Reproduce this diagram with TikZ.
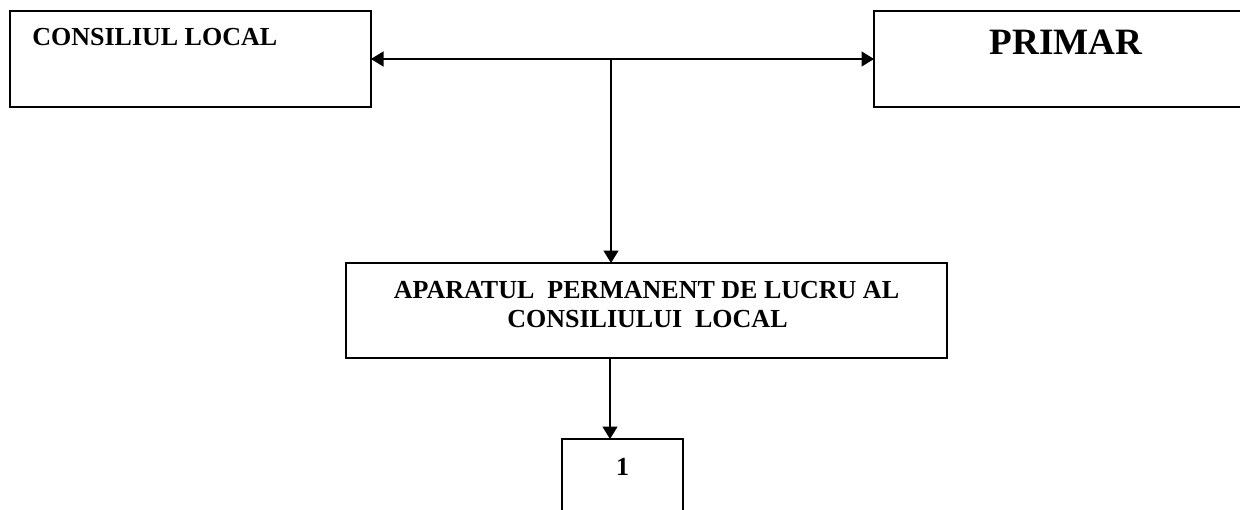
\documentclass[tikz,border=0pt]{standalone}
\usepackage{fontspec}
\setmainfont{Liberation Serif}
\usetikzlibrary{arrows.meta}
\begin{document}
\begin{tikzpicture}[x=0.6pt,y=-0.6pt,
  box/.style={draw, line width=0.9pt, inner sep=0pt, outer sep=0pt},
  lbl/.style={font=\fontsize{15.6}{17.4}\selectfont\bfseries, inner sep=0pt, anchor=base},
  big/.style={font=\fontsize{22.3}{26}\selectfont\bfseries, inner sep=0pt, anchor=base},
  conn/.style={line width=0.9pt, -{Triangle[length=7.5pt,width=9pt]}}]
\useasboundingbox (0,0) rectangle (1240,510);
% boxes
\node[box, minimum width=216.6pt, minimum height=57.6pt] (cl) at (190.5,59) {};
\node[box, minimum width=230.4pt, minimum height=57.6pt] (pr) at (1066,59) {};
\node[box, minimum width=360.6pt, minimum height=57pt] (ap) at (646.5,310.5) {};
\node[box, minimum width=72.6pt, minimum height=72.6pt] (b1) at (622.5,499.5) {};
% texts
\node[lbl, anchor=base west] (tcl) at (32,45) {CONSILIUL LOCAL};
\node[big] (tpr) at (1066,55) {PRIMAR};
\node[lbl] (tap1) at (646.5,298) {APARATUL\ \ PERMANENT DE LUCRU AL};
\node[lbl] (tap2) at (647.5,327) {CONSILIULUI\ \ LOCAL};
\node[lbl] (t1) at (622.5,475) {1};
% connectors
\coordinate (j) at (611,59);
\draw[conn] (j) -- (cl.east);
\draw[conn] (j) -- (pr.west);
\draw[conn] (j) -- (j |- ap.north);
\coordinate (k) at (610,358);
\draw[conn] (k |- ap.south) -- (k |- b1.north);
\end{tikzpicture}
\end{document}
